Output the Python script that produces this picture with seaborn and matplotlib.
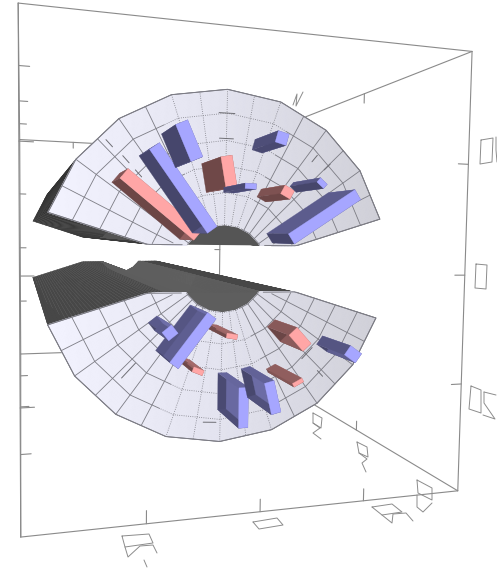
import matplotlib
matplotlib.use("Agg")
import matplotlib.pyplot as plt
import numpy as np
import pandas as pd
import seaborn as sns
from matplotlib.collections import PolyCollection

# bars on the upper half of the polar plane
top_theta = [141, 126, 114, 100.5, 87.5, 75, 62, 49, 33.5]
top_r0 = [0.30, 0.27, 0.625, 0.44, 0.43, 0.69, 0.45, 0.61, 0.32]
top_r1 = [0.78, 0.78, 0.82, 0.60, 0.457, 0.75, 0.50, 0.64, 0.76]
top_width = [0.062, 0.06, 0.065, 0.058, 0.058, 0.06, 0.058, 0.05, 0.063]
top_height = [0.087, 0.087, 0.099, 0.105, 0.105, 0.099, 0.099, 0.099, 0.087]
top_kind = ["p", "b", "b", "p", "b", "b", "p", "b", "b"]

# bars on the lower half
low_theta = [259.3, 247, 233, 218.5, 270.6, 284, 297.3, 312.5, 324.5]
low_r0 = [0.32, 0.546, 0.275, 0.455, 0.597, 0.59, 0.644, 0.43, 0.73]
low_r1 = [0.345, 0.573, 0.59, 0.515, 0.81, 0.764, 0.666, 0.55, 0.81]
low_width = [0.057, 0.058, 0.055, 0.055, 0.05, 0.053, 0.058, 0.06, 0.06]
low_height = [0.105, 0.087, 0.102, 0.105, 0.105, 0.105, 0.105, 0.087, 0.093]
low_kind = ["p", "p", "b", "b", "b", "b", "p", "p", "b"]

# grid of the polar plane
arc_radii = [0.25, 0.43, 0.58, 0.72, 0.87, 1.0]
fan_start = 17.4
gap = 0.135

# stray tick marks that show on the plane: r, theta, length, radial or not
mark_r = [0.77, 0.885, 0.72, 0.87, 0.93, 0.81, 0.71, 0.87, 0.73, 0.83, 0.85]
mark_theta = [227, 266, 316, 314, 133.6, 133, 133, 90, 90, 50.6, 44.5]
mark_len = [0.11, 0.075, 0.09, 0.05, 0.05, 0.05, 0.05, 0.09, 0.08, 0.05, 0.05]
mark_radial = [1, 0, 0, 1, 1, 1, 1, 0, 0, 1, 1]

tick_values = [0.25, 0.5, 0.75]

# view calibration: corners of the box and of the fan on the page
cube = [(0, 1, 0), (1, 1, 0), (1, 0, 0), (0, 0, 0), (0, 1, 1), (1, 1, 1), (1, 0, 1), (0, 0, 1)]
cube_px = [(19, 4), (473, 50), (456, 489), (21, 540), (20, 140), (220, 150), (220, 349), (20, 352)]
plane_px = [(222, 269), (380, 222), (228, 88), (48, 214), (48, 323), (220, 443), (376, 315)]
vanish = np.array([18.0, 230.0])
back_depth = -0.5


def fit_view(src, dst):
    rows = []
    for s, (u, v) in zip(src, dst):
        s = np.append(s, 1.0)
        zero = np.zeros_like(s)
        rows.append(np.concatenate([s, zero, -u * s]))
        rows.append(np.concatenate([zero, s, -v * s]))
    return np.linalg.svd(np.array(rows))[2][-1].reshape(3, -1)


def apply_view(m, pts):
    pts = np.asarray(pts, dtype=float)
    h = np.concatenate([pts, np.ones(pts.shape[:-1] + (1,))], axis=-1) @ m.T
    return h[..., :2] / h[..., 2:]


def unit_xy(a):
    a = np.radians(a)
    return np.stack([np.cos(a), np.sin(a)], axis=-1)


plane_src = [(0, 0)] + [tuple(unit_xy(a)) for a in (fan_start, 90, 180 - fan_start, 180 + fan_start, 270, 360 - fan_start)]
view_plane = fit_view(plane_src, plane_px)
view_cube = fit_view(cube, cube_px)


def plane(xy, depth=0.0):
    return vanish + (apply_view(view_plane, xy) - vanish) * (1 + depth)


# outer rim is a polygon with a corner every 18 degrees or so
rim_angles = np.linspace(fan_start, 180 - fan_start, 9)


def fan_xy(theta, r, side):
    rim = unit_xy(rim_angles)
    x = np.interp(theta, rim_angles, rim[:, 0]) * r
    y = np.interp(theta, rim_angles, rim[:, 1]) * r
    return np.stack([x, side * np.maximum(y, gap)], axis=-1)


sns.set_theme(style="white")
fig = plt.figure(figsize=(4.97, 5.68), dpi=100)
ax = fig.add_axes([0, 0, 1, 1])

# box edges and ticks
edges = [
    ((0, 1, 0), (1, 1, 0), None), ((1, 1, 0), (1, 0, 0), (-1, 0, 0)), ((1, 0, 0), (0, 0, 0), (0, 1, 0)),
    ((0, 0, 0), (0, 1, 0), (1, 0, 0)), ((0, 1, 1), (1, 1, 1), (0, -1, 0)), ((1, 1, 1), (1, 0, 1), (-1, 0, 0)),
    ((1, 0, 1), (0, 0, 1), (0, 1, 0)), ((0, 0, 1), (0, 1, 1), (1, 0, 0)), ((0, 1, 0), (0, 1, 1), (1, 0, 0)),
    ((1, 1, 0), (1, 1, 1), (0, -1, 0)), ((1, 0, 0), (1, 0, 1), (0, 1, 0)), ((0, 0, 0), (0, 0, 1), (1, 0, 0)),
]
rows = []
seg = 0
for a, b, inward in edges:
    a, b = np.array(a, float), np.array(b, float)
    p = apply_view(view_cube, [a, b])
    rows += [(seg, p[0, 0], p[0, 1]), (seg, p[1, 0], p[1, 1])]
    seg += 1
    if inward is None:
        continue
    for t in tick_values:
        c = a + (b - a) * t
        q = apply_view(view_cube, [c, c + 0.027 * np.array(inward)])
        rows += [(seg, q[0, 0], q[0, 1]), (seg, q[1, 0], q[1, 1])]
        seg += 1
frame = pd.DataFrame(rows, columns=["seg", "x", "y"])
sns.lineplot(data=frame, x="x", y="y", units="seg", estimator=None, sort=False,
             color="#8a8a8a", linewidth=0.8, legend=False, ax=ax)

# the tick labels are flattened line drawings in the source, not readable type
glyphs = [
    [(122, 536), (149, 534), (153, 543), (125, 547), (122, 536)],
    [(125, 547), (128, 557), (140, 546), (153, 545), (157, 553)],
    [(144, 560), (147, 567)],
    [(253, 522), (277, 518), (283, 525), (259, 529), (253, 522)],
    [(372, 507), (392, 504), (402, 512), (382, 515), (372, 507)],
    [(382, 515), (392, 523), (393, 514), (406, 513), (413, 521)],
    [(481, 140), (493, 138), (492, 162), (480, 164), (481, 140)],
    [(496, 137), (496, 150), (497, 162)],
    [(476, 264), (487, 265), (486, 289), (475, 288), (476, 264)],
    [(471, 386), (481, 390), (481, 413), (469, 409), (471, 386)],
    [(484, 392), (496, 395)],
    [(484, 392), (484, 403), (495, 419), (483, 415)],
    [(313, 413), (322, 418), (321, 428), (313, 423), (313, 413)],
    [(313, 423), (320, 428), (313, 433), (321, 439)],
    [(357, 442), (367, 447), (368, 457), (359, 453), (357, 442)],
    [(359, 453), (367, 459), (362, 463), (366, 472)],
    [(417, 480), (432, 488), (432, 500), (418, 493), (417, 480)],
    [(417, 495), (417, 507), (423, 512), (432, 503)],
    [(293, 105), (297, 94), (296, 106), (303, 92)],
]
for g in glyphs:
    g = np.array(g)
    ax.plot(g[:, 0], g[:, 1], color="#8c8c8c", lw=0.7)

shade_cmap = sns.blend_palette(["#f3f3ff", "#e4e4f0", "#d0d0d8"], as_cmap=True)
thetas = np.linspace(fan_start, 180 - fan_start, 145)
radii = np.linspace(arc_radii[0], 1, 40)
grid_angles = np.linspace(fan_start, 180 - fan_start, 17)
grid_color = "#7c7c84"

for side, wall_dark, flat_dark, hole_dark in ((1, "#333333", "#3a3a3a", "#555555"), (-1, "#404040", "#474747", "#5e5e5e")):
    # solid behind the face: rim, straight sides, then the inner wall
    rim = fan_xy(thetas, np.ones_like(thetas), side)
    inner = fan_xy(thetas[::-1], np.full_like(thetas, arc_radii[0]), side)
    right = fan_xy(np.full_like(radii, thetas[-1]), radii[::-1], side)
    left = fan_xy(np.full_like(radii, thetas[0]), radii, side)
    for part, col in ((rim, wall_dark), (left, flat_dark), (right, flat_dark), (inner, hole_dark)):
        front = plane(part)
        back = plane(part, back_depth)
        quads = [np.array([front[i], front[i + 1], back[i + 1], back[i]]) for i in range(len(part) - 1)]
        ax.add_collection(PolyCollection(quads, facecolors=col, edgecolors=col, linewidths=0.3))
    dome = plane(inner)
    ax.fill(dome[:, 0], dome[:, 1], color=hole_dark, lw=0)

    # the face itself
    T, R = np.meshgrid(thetas, radii)
    face = plane(fan_xy(T.ravel(), R.ravel(), side)).reshape(T.shape + (2,))
    ax.pcolormesh(face[..., 0], face[..., 1], face[..., 0], shading="gouraud", cmap=shade_cmap, vmin=50, vmax=380)

    # grid, dotted around the middle where the source breaks up
    for a in grid_angles:
        rr = np.linspace(arc_radii[0], 1, 30)
        xy = fan_xy(np.full_like(rr, a), rr, side)
        xy[np.abs(xy[:, 1]) <= gap] = np.nan
        p = plane(xy)
        ls = ":" if abs(a - 90) < 20 else "-"
        ax.plot(p[:, 0], p[:, 1], color=grid_color, lw=0.6, ls=ls)
    for rad in arc_radii:
        for lo, hi, ls in ((fan_start, 66, "-"), (66, 114, ":"), (114, 180 - fan_start, "-")):
            tt = np.linspace(lo, hi, 60)
            xy = fan_xy(tt, np.full_like(tt, rad), side)
            xy[np.abs(xy[:, 1]) <= gap] = np.nan
            p = plane(xy)
            ax.plot(p[:, 0], p[:, 1], color=grid_color, lw=0.6, ls="-" if rad == 1 and ls == ":" else ls)
    outline = plane(np.concatenate([left, rim]))
    ax.plot(outline[:, 0], outline[:, 1], color=grid_color, lw=0.7)
    outline = plane(right)
    ax.plot(outline[:, 0], outline[:, 1], color=grid_color, lw=0.7)

for r, a, ln, radial in zip(mark_r, mark_theta, mark_len, mark_radial):
    u = unit_xy(a)
    d = u if radial else np.array([-u[1], u[0]])
    p = plane(np.array([r * u - d * ln / 2, r * u + d * ln / 2]))
    ax.plot(p[:, 0], p[:, 1], color="#6e6e74", lw=0.7)

base_colors = {"p": np.array(sns.color_palette(["#ffa6a6"])[0]), "b": np.array(sns.color_palette(["#a6a6ff"])[0])}


def draw_bar(theta, r0, r1, width, height, kind):
    u = unit_xy(theta)
    v = np.array([-u[1], u[0]])
    corners = np.array([r0 * u - v * width / 2, r1 * u - v * width / 2, r1 * u + v * width / 2, r0 * u + v * width / 2])
    base = plane(corners)
    roof = plane(corners, height)
    middle = corners.mean(axis=0)
    for i in range(4):
        j = (i + 1) % 4
        n = (corners[i] + corners[j]) / 2 - middle
        shade = 0.54 + 0.12 * np.cos(np.arctan2(n[1], n[0]) - np.radians(40))
        col = base_colors[kind] * shade
        ax.fill([base[i, 0], base[j, 0], roof[j, 0], roof[i, 0]], [base[i, 1], base[j, 1], roof[j, 1], roof[i, 1]],
                color=col, lw=0.2)
    ax.fill(roof[:, 0], roof[:, 1], color=base_colors[kind], lw=0.2)


for bar in zip(top_theta, top_r0, top_r1, top_width, top_height, top_kind):
    draw_bar(*bar)
for bar in zip(low_theta, low_r0, low_r1, low_width, low_height, low_kind):
    draw_bar(*bar)

# paint strictly in the order things were added, like a depth sort
for i, art in enumerate(ax.get_children()):
    art.set_zorder(i)

ax.set_xlim(0, 497)
ax.set_ylim(568, 0)
ax.axis("off")
fig.savefig("out.png", dpi=100)
